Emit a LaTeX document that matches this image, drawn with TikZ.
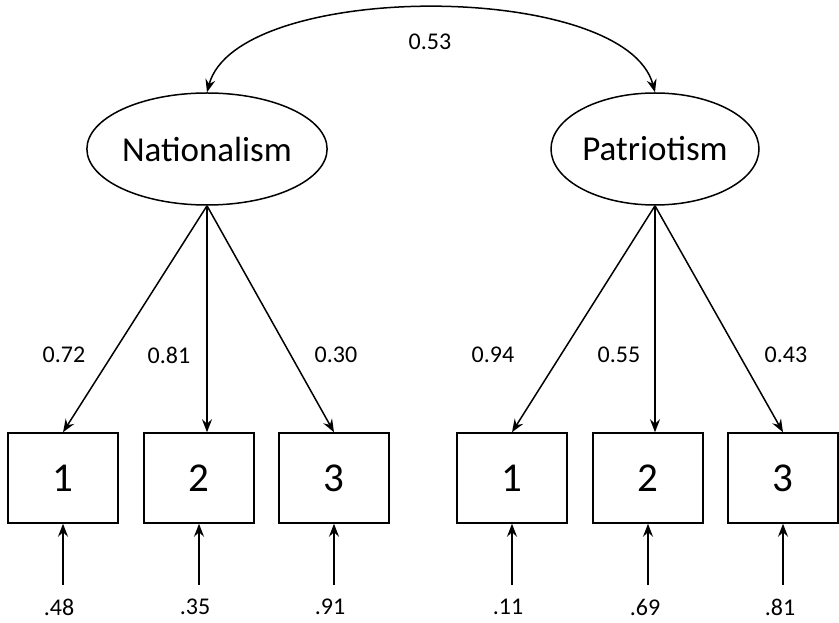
\documentclass[tikz,border=0pt]{standalone}
\usepackage{fontspec}
\setmainfont{Carlito}
\usetikzlibrary{arrows.meta,positioning,shapes.geometric,calc}

\begin{document}
\begin{tikzpicture}[x=1pt,y=1pt,
    latent/.style={draw,ellipse,line width=1.5pt,minimum width=208pt,minimum height=112pt,
                   inner sep=0pt,font=\fontsize{35}{38}\selectfont},
    item/.style={draw,rectangle,line width=1.5pt,minimum width=110pt,minimum height=90pt,
                 inner sep=0pt,font=\fontsize{41}{44}\selectfont},
    coef/.style={font=\fontsize{24}{26}\selectfont},
    errlab/.style={font=\fontsize{24}{26}\selectfont,inner xsep=0pt,inner ysep=14pt},
    load/.style={-{Stealth[length=13pt,width=10pt,inset=4.5pt]},line width=1.5pt}]
  \useasboundingbox (0,0) rectangle (839,622);

  % latent factors
  \node[latent] (nat) at (207,473) {Nationalism};
  \node[latent] (pat) at (655,473) {Patriotism};

  % items
  \node[item] (n1) at (63,144) {1};
  \node[item] (n2) at (199,144) {2};
  \node[item] (n3) at (334,144) {3};
  \node[item] (p1) at (512,144) {1};
  \node[item] (p2) at (648,144) {2};
  \node[item] (p3) at (783,144) {3};

  % correlation
  \draw[{Stealth[length=13pt,width=10pt,inset=4.5pt]}-{Stealth[length=13pt,width=10pt,inset=4.5pt]},line width=1.5pt]
    (nat.north) .. controls (237,642) and (625,642) .. (pat.north);
  \node[coef] (r) at (430,580) {0.53};

  % loadings
  \draw[load] (nat.south) -- (n1.north);
  \draw[load] (nat.south) -- (nat.south |- n2.north);
  \draw[load] (nat.south) -- (n3.north);
  \draw[load] (pat.south) -- (p1.north);
  \draw[load] (pat.south) -- (pat.south |- p2.north);
  \draw[load] (pat.south) -- (p3.north);
  \node[coef] (l1) at (64,267) {0.72};
  \node[coef] (l2) at (169,267) {0.81};
  \node[coef] (l3) at (336,267) {0.30};
  \node[coef] (l4) at (493,267) {0.94};
  \node[coef] (l5) at (619,267) {0.55};
  \node[coef] (l6) at (786,267) {0.43};

  % errors
  \node[errlab] (e1) at (59,15) {.48};
  \node[errlab] (e2) at (195,15) {.35};
  \node[errlab] (e3) at (330,15) {.91};
  \node[errlab] (e4) at (508,15) {.11};
  \node[errlab] (e5) at (645,15) {.69};
  \node[errlab] (e6) at (780,15) {.81};
  \draw[load] (n1.south |- e1.north) -- (n1.south);
  \draw[load] (n2.south |- e2.north) -- (n2.south);
  \draw[load] (n3.south |- e3.north) -- (n3.south);
  \draw[load] (p1.south |- e4.north) -- (p1.south);
  \draw[load] (p2.south |- e5.north) -- (p2.south);
  \draw[load] (p3.south |- e6.north) -- (p3.south);
\end{tikzpicture}
\end{document}
